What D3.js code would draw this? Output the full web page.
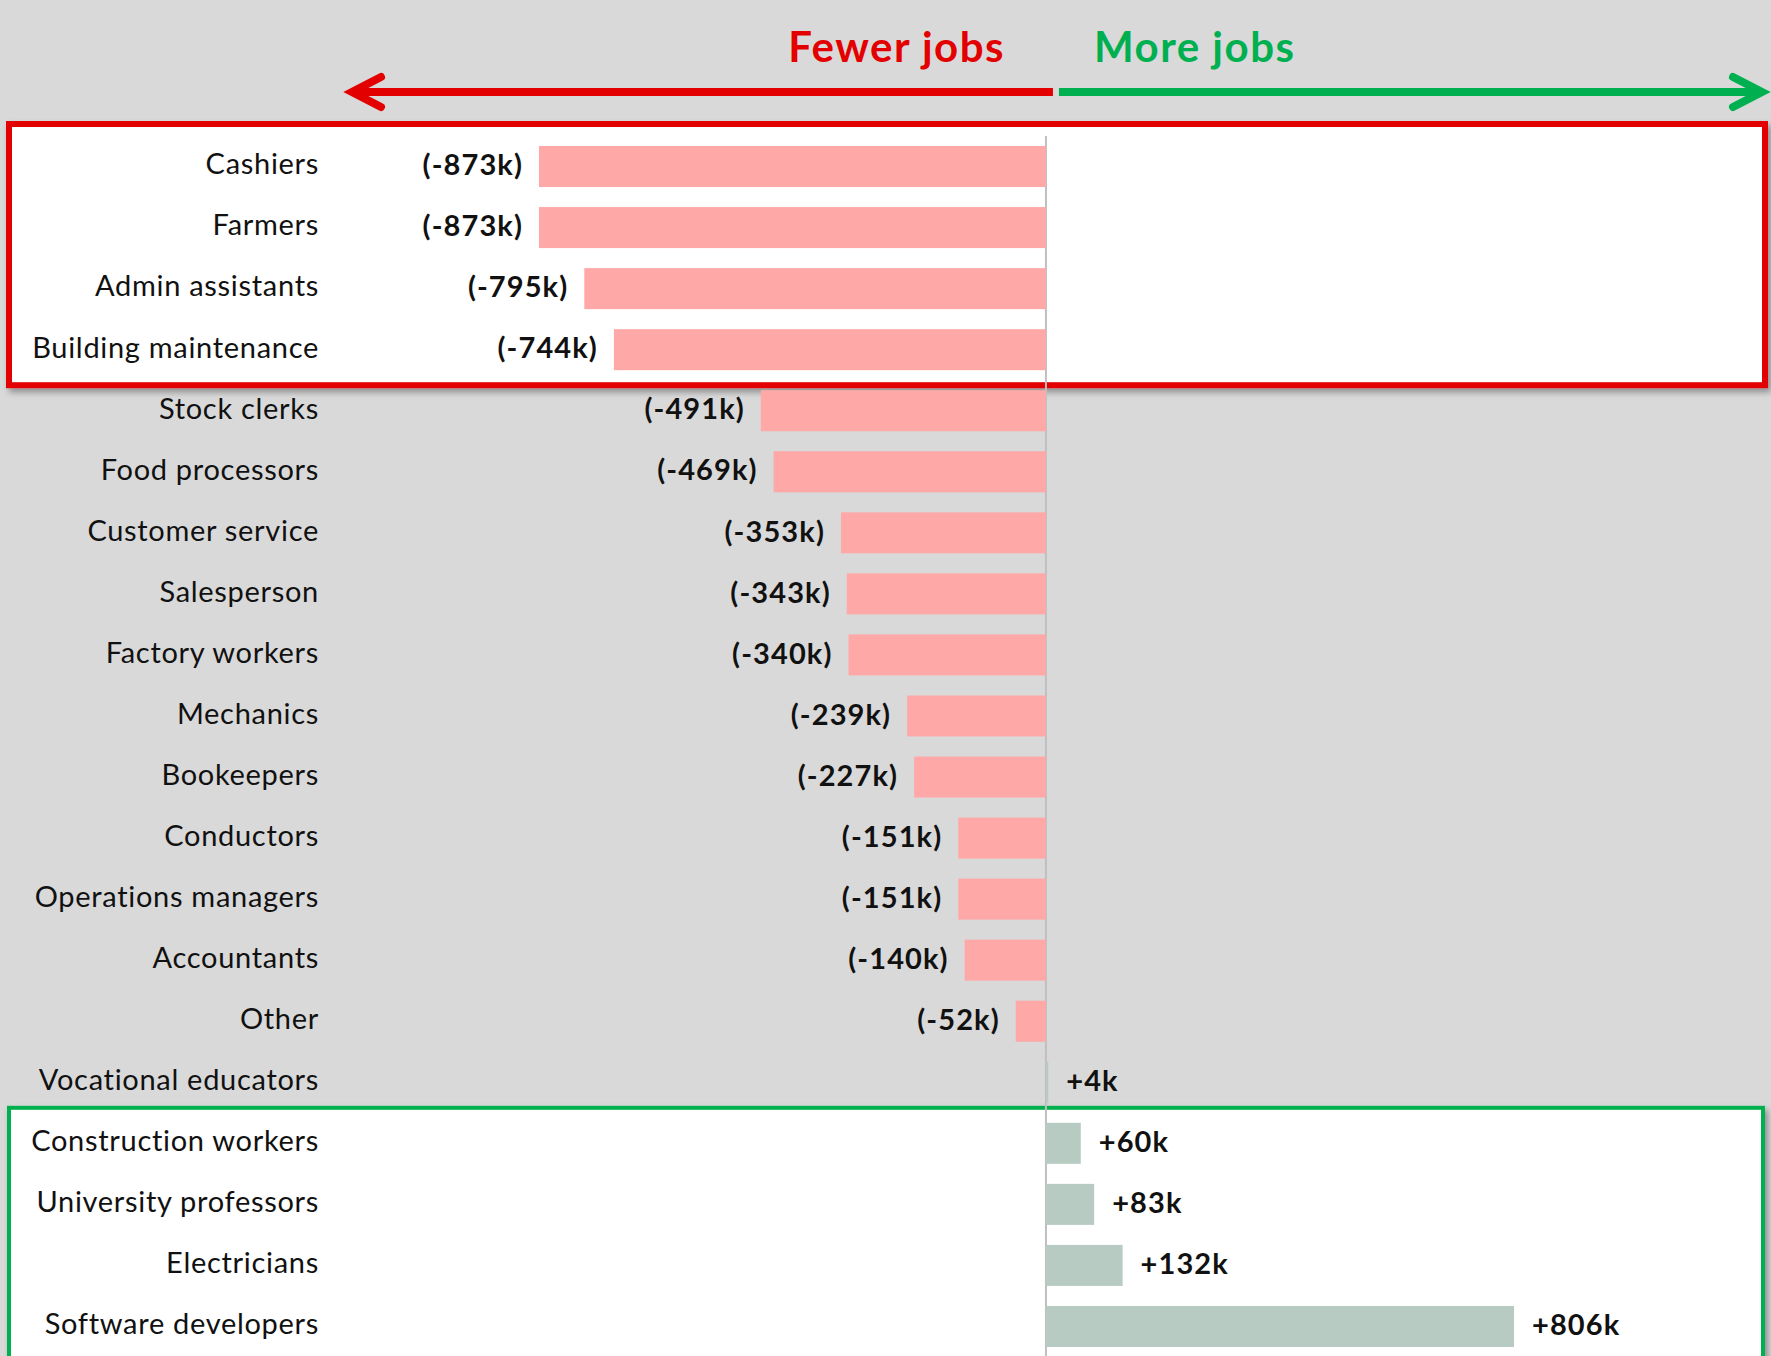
<!DOCTYPE html>
<html>
<head>
<meta charset="utf-8">
<script src="https://cdn.jsdelivr.net/npm/d3@7"></script>
<style>
  html, body { margin: 0; padding: 0; background: #d9d9d9; }
  svg { display: block; }
  text { font-family: Lato, "Open Sans", sans-serif; }
</style>
</head>
<body>
<script>
// ---- data ----
const categories = [
  "Cashiers", "Farmers", "Admin assistants", "Building maintenance",
  "Stock clerks", "Food processors", "Customer service", "Salesperson",
  "Factory workers", "Mechanics", "Bookeepers", "Conductors",
  "Operations managers", "Accountants", "Other", "Vocational educators",
  "Construction workers", "University professors", "Electricians", "Software developers"
];
const changes = [
  -873, -873, -795, -744,
  -491, -469, -353, -343,
  -340, -239, -227, -151,
  -151, -140, -52, 4,
  60, 83, 132, 806
];
const fewerGroup = ["Cashiers", "Farmers", "Admin assistants", "Building maintenance"];
const moreGroup = ["Construction workers", "University professors", "Electricians", "Software developers"];
const headerLabels = ["Fewer jobs", "More jobs"];

// ---- layout ----
const W = 1771, H = 1356;
const RED = "#e30000", GREEN = "#00b050";
const svg = d3.select("body").append("svg").attr("width", W).attr("height", H);

const defs = svg.append("defs");
const f = defs.append("filter").attr("id", "shadow").attr("x", "-5%").attr("y", "-20%").attr("width", "110%").attr("height", "140%");
f.append("feDropShadow").attr("dx", 3).attr("dy", 4).attr("stdDeviation", 3)
  .attr("flood-color", "#000").attr("flood-opacity", 0.35);

svg.append("rect").attr("width", W).attr("height", H).attr("fill", "#d9d9d9");

const data = categories.map((c, i) => ({ cat: c, v: changes[i] }));

const x = d3.scaleLinear()
  .domain([d3.min(changes), d3.max(changes)])
  .range([539, 1514]);

const y = d3.scaleBand()
  .domain(categories)
  .range([136, 1357])
  .paddingInner(0.328)
  .paddingOuter(0.164);

const bw = y.bandwidth();

// highlight boxes
const redTop = y(fewerGroup[0]) - 22;
const redBot = y(fewerGroup[fewerGroup.length - 1]) + bw + 15;
svg.append("rect")
  .attr("x", 9).attr("y", redTop)
  .attr("width", 1756).attr("height", redBot - redTop)
  .attr("fill", "#fff").attr("stroke", RED).attr("stroke-width", 6)
  .attr("filter", "url(#shadow)");

const greenTop = y(moreGroup[0]) - 15;
svg.append("rect")
  .attr("x", 9).attr("y", greenTop)
  .attr("width", 1754).attr("height", 400)
  .attr("fill", "#fff").attr("stroke", GREEN).attr("stroke-width", 4)
  .attr("filter", "url(#shadow)");

// zero line
svg.append("line")
  .attr("x1", x(0)).attr("x2", x(0))
  .attr("y1", 136).attr("y2", H)
  .attr("stroke", "#bfbfbf").attr("stroke-width", 2);

// bars
svg.append("g").selectAll("rect").data(data).join("rect")
  .attr("x", d => Math.min(x(0), x(d.v)))
  .attr("y", d => y(d.cat))
  .attr("width", d => Math.abs(x(d.v) - x(0)))
  .attr("height", bw)
  .attr("fill", d => d.v < 0 ? "#ffa8a8" : "#b8cbc3");

// category labels
svg.append("g").selectAll("text").data(data).join("text")
  .attr("x", 319)
  .attr("y", d => y(d.cat) + bw / 2)
  .attr("dy", "0.27em")
  .attr("text-anchor", "end")
  .attr("font-size", 29)
  .attr("letter-spacing", 0.7)
  .attr("fill", "#111")
  .text(d => d.cat);

// value labels
svg.append("g").selectAll("text").data(data).join("text")
  .attr("x", d => d.v < 0 ? x(d.v) - 16 : x(d.v) + 18)
  .attr("y", d => y(d.cat) + bw / 2)
  .attr("dy", "0.3em")
  .attr("text-anchor", d => d.v < 0 ? "end" : "start")
  .attr("font-size", 29)
  .attr("letter-spacing", 1.1)
  .attr("font-weight", "bold")
  .attr("fill", "#111")
  .text(d => d.v < 0 ? `(${d.v}k)` : `+${d.v}k`);

// header arrows
const ay = 92;
const arrows = svg.append("g").attr("fill", "none").attr("stroke-width", 8);
arrows.append("line").attr("x1", 356).attr("x2", x(0) + 7).attr("y1", ay).attr("y2", ay)
  .attr("stroke", RED);
arrows.append("path").attr("d", `M381,${ay - 15} L352,${ay} L381,${ay + 15}`)
  .attr("stroke", RED).attr("stroke-linecap", "round").attr("stroke-linejoin", "miter");
arrows.append("line").attr("x1", x(0) + 13).attr("x2", 1758).attr("y1", ay).attr("y2", ay)
  .attr("stroke", GREEN);
arrows.append("path").attr("d", `M1733,${ay - 15} L1762,${ay} L1733,${ay + 15}`)
  .attr("stroke", GREEN).attr("stroke-linecap", "round").attr("stroke-linejoin", "miter");

svg.append("text").attr("x", 1005).attr("y", 62)
  .attr("text-anchor", "end").attr("font-size", 42).attr("font-weight", "bold")
  .attr("letter-spacing", 1.5)
  .attr("fill", RED).text(headerLabels[0]);
svg.append("text").attr("x", 1094).attr("y", 62)
  .attr("text-anchor", "start").attr("font-size", 42).attr("font-weight", "bold")
  .attr("letter-spacing", 1.5)
  .attr("fill", GREEN).text(headerLabels[1]);
</script>
</body>
</html>
